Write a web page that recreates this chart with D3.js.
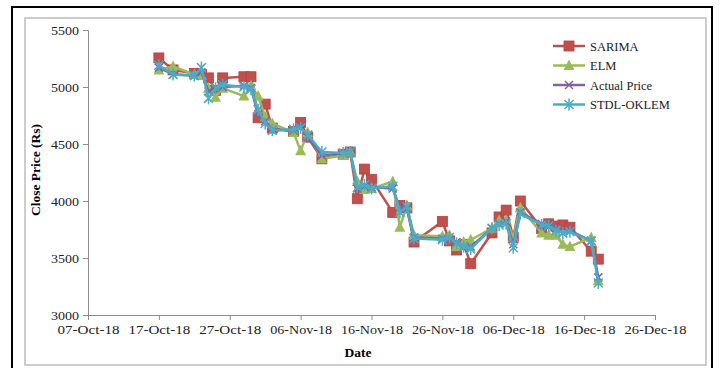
<!DOCTYPE html>
<html><head><meta charset="utf-8">
<script src="https://cdn.jsdelivr.net/npm/d3@7"></script>
<style>body{margin:0;background:#fff}svg{display:block}</style>
</head><body><svg id="c" width="720" height="368"></svg>
<script>
const dates = ["2018-10-17","2018-10-19","2018-10-22","2018-10-23","2018-10-24","2018-10-25","2018-10-26","2018-10-29","2018-10-30","2018-10-31","2018-11-01","2018-11-02","2018-11-05","2018-11-06","2018-11-07","2018-11-09","2018-11-12","2018-11-13","2018-11-14","2018-11-15","2018-11-16","2018-11-19","2018-11-20","2018-11-21","2018-11-22","2018-11-26","2018-11-27","2018-11-28","2018-11-29","2018-11-30","2018-12-03","2018-12-04","2018-12-05","2018-12-06","2018-12-07","2018-12-10","2018-12-11","2018-12-12","2018-12-13","2018-12-14","2018-12-17","2018-12-18"];
const sarima = [5255,5150,5120,5110,5080,4970,5080,5090,5090,4730,4850,4640,4610,4690,4560,4370,4410,4430,4020,4280,4190,3900,3960,3940,3640,3820,3650,3570,3620,3450,3720,3860,3920,3680,4000,3760,3800,3780,3790,3770,3560,3490];
const elm = [5150,5180,5110,5100,4990,4910,4990,4920,5010,4920,4740,4680,4600,4440,4600,4370,4400,4430,4170,4100,4110,4170,3770,3960,3700,3690,3700,3600,3640,3660,3760,3830,3830,3680,3940,3720,3700,3700,3620,3600,3680,3300];
const actual = [5170,5110,5100,5130,4960,4990,5000,5010,4990,4760,4700,4620,4620,4650,4560,4400,4420,4430,4110,4130,4120,4110,3940,3930,3680,3670,3660,3640,3600,3600,3760,3800,3820,3620,3900,3800,3780,3760,3720,3740,3650,3330];
const stdl = [5190,5110,5100,5170,4900,4990,5020,5000,4980,4800,4680,4620,4630,4640,4580,4430,4420,4430,4120,4140,4110,4130,3900,3950,3670,3660,3680,3630,3600,3580,3760,3790,3800,3590,3890,3790,3780,3740,3720,3730,3650,3280];
const seriesNames = ["SARIMA","ELM","Actual Price","STDL-OKLEM"];
const yTicks = [3000,3500,4000,4500,5000,5500];
const xTickDates = ["2018-10-07","2018-10-17","2018-10-27","2018-11-06","2018-11-16","2018-11-26","2018-12-06","2018-12-16","2018-12-26"];

const parse = d3.timeParse("%Y-%m-%d");
const svg = d3.select("#c");
const font = "'Liberation Serif','Times New Roman',serif";

// frames
svg.append("rect").attr("x",12).attr("y",7).attr("width",700).attr("height",370)
  .attr("fill","none").attr("stroke","#000").attr("stroke-width",2);
svg.append("rect").attr("x",25).attr("y",18).attr("width",681).attr("height",347)
  .attr("fill","none").attr("stroke","#bdbdbd").attr("stroke-width",1.5);

const x = d3.scaleTime().domain([parse(xTickDates[0]), parse(xTickDates[xTickDates.length-1])]).range([88,655]);
const y = d3.scaleLinear().domain([3000,5500]).range([315,30]);

const yAxis = svg.append("g").attr("transform","translate(88,0)")
  .call(d3.axisLeft(y).tickValues(yTicks).tickSize(5).tickPadding(4).tickFormat(d3.format("d")));
const xAxis = svg.append("g").attr("transform","translate(0,315)")
  .call(d3.axisBottom(x).tickValues(xTickDates.map(parse)).tickSize(5).tickPadding(5).tickFormat(d3.timeFormat("%d-%b-%y")));
[yAxis,xAxis].forEach(g=>{
  g.select(".domain").attr("stroke","#8c8c8c");
  g.selectAll(".tick line").attr("stroke","#8c8c8c");
  g.selectAll("text").attr("font-family",font).attr("font-size",13).attr("fill","#222");
});
xAxis.selectAll(".tick text").attr("textLength",62).attr("lengthAdjust","spacingAndGlyphs");
yAxis.selectAll(".tick text").attr("textLength",28).attr("lengthAdjust","spacingAndGlyphs");

svg.append("text").attr("x",358).attr("y",357).attr("text-anchor","middle")
  .attr("font-family",font).attr("font-weight","bold").attr("font-size",13.5).text("Date");
svg.append("text").attr("transform","translate(40,170) rotate(-90)").attr("text-anchor","middle")
  .attr("font-family",font).attr("font-weight","bold").attr("font-size",13.5).text("Close Price (Rs)");

const colors = ["#c0504d","#9bbb59","#8064a2","#4bacc6"];
const data = [sarima, elm, actual, stdl];
const pts = dates.map(parse);
const line = d3.line().x((d,i)=>x(pts[i])).y(d=>y(d));

function marker(g, type, cx, cy, col){
  if(type===0){
    g.append("rect").attr("x",cx-5).attr("y",cy-5).attr("width",10).attr("height",10)
      .attr("fill",col).attr("stroke","#b5403d").attr("stroke-width",0.8);
  } else if(type===1){
    g.append("path").attr("d",`M${cx},${cy-6}L${cx+5.5},${cy+4.5}L${cx-5.5},${cy+4.5}Z`).attr("fill",col);
  } else if(type===2){
    g.append("path").attr("d",`M${cx-4},${cy-4}L${cx+4},${cy+4}M${cx-4},${cy+4}L${cx+4},${cy-4}`)
      .attr("stroke",col).attr("stroke-width",1.5);
  } else {
    g.append("path").attr("d",`M${cx-4.5},${cy-4.5}L${cx+4.5},${cy+4.5}M${cx-4.5},${cy+4.5}L${cx+4.5},${cy-4.5}M${cx},${cy-6}L${cx},${cy+6}`)
      .attr("stroke",col).attr("stroke-width",1.5);
  }
}

data.forEach((vals,k)=>{
  const g = svg.append("g");
  g.append("path").datum(vals).attr("d",line).attr("fill","none").attr("stroke",colors[k]).attr("stroke-width",2.5).attr("stroke-linejoin","round");
  vals.forEach((v,i)=>marker(g,k,x(pts[i]),y(v),colors[k]));
});

// legend
const lg = svg.append("g");
seriesNames.forEach((n,k)=>{
  const yy = 46 + k*19.5;
  lg.append("line").attr("x1",553).attr("x2",585).attr("y1",yy).attr("y2",yy).attr("stroke",colors[k]).attr("stroke-width",2.5);
  marker(lg,k,569,yy,colors[k]);
  lg.append("text").attr("x",590).attr("y",yy+4.5).attr("font-family",font).attr("font-size",12.5).attr("fill","#222").text(n);
});
</script></body></html>
